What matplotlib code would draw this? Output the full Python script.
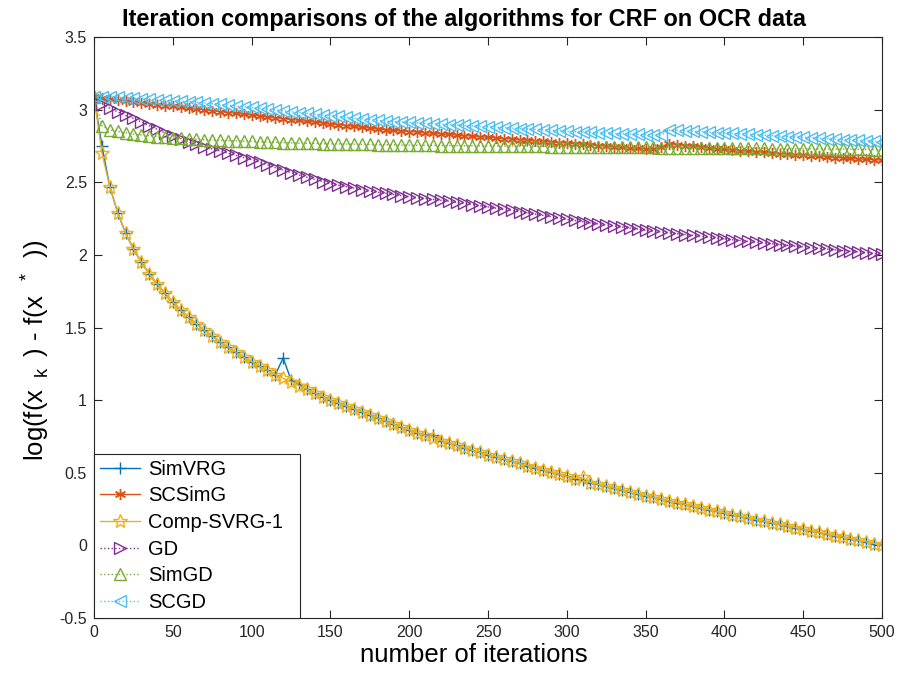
import numpy as np
import matplotlib.pyplot as plt

# iterations at which values are recorded (every 5 iterations)
iters = np.arange(0, 501, 5)

simvrg = [
    3.09, 2.75, 2.47, 2.29, 2.15, 2.04, 1.95, 1.87, 1.80, 1.735,
    1.675, 1.62, 1.57, 1.525, 1.48, 1.44, 1.40, 1.365, 1.33, 1.295,
    1.265, 1.235, 1.205, 1.175, 1.29, 1.14, 1.11, 1.075, 1.05, 1.025,
    1.00, 0.98, 0.96, 0.94, 0.92, 0.90, 0.875, 0.855, 0.835, 0.815,
    0.795, 0.775, 0.757, 0.76, 0.722, 0.705, 0.688, 0.671, 0.655, 0.64,
    0.625, 0.61, 0.595, 0.58, 0.565, 0.55, 0.535, 0.52, 0.505, 0.49,
    0.475, 0.46, 0.447, 0.433, 0.42, 0.407, 0.394, 0.381, 0.368, 0.355,
    0.342, 0.33, 0.318, 0.306, 0.294, 0.282, 0.27, 0.258, 0.246, 0.235,
    0.223, 0.212, 0.20, 0.189, 0.178, 0.167, 0.155, 0.144, 0.133, 0.122,
    0.111, 0.10, 0.089, 0.078, 0.067, 0.057, 0.046, 0.035, 0.025, 0.013,
    0.0,
]

scsimg = [
    3.09, 3.08, 3.07, 3.064, 3.058, 3.052, 3.046, 3.04, 3.034, 3.028,
    3.022, 3.016, 3.01, 3.004, 2.998, 2.992, 2.986, 2.98, 2.974, 2.968,
    2.962, 2.956, 2.95, 2.944, 2.938, 2.932, 2.926, 2.92, 2.914, 2.908,
    2.902, 2.896, 2.89, 2.884, 2.878, 2.872, 2.866, 2.861, 2.857, 2.853,
    2.849, 2.845, 2.841, 2.837, 2.833, 2.829, 2.825, 2.821, 2.817, 2.813,
    2.809, 2.805, 2.801, 2.797, 2.793, 2.789, 2.785, 2.781, 2.777, 2.773,
    2.769, 2.765, 2.761, 2.757, 2.753, 2.749, 2.745, 2.741, 2.737, 2.733,
    2.729, 2.726, 2.745, 2.765, 2.758, 2.752, 2.747, 2.742, 2.737, 2.732,
    2.727, 2.722, 2.718, 2.714, 2.71, 2.706, 2.702, 2.698, 2.694, 2.69,
    2.686, 2.682, 2.678, 2.674, 2.67, 2.667, 2.664, 2.661, 2.658, 2.655,
    2.652,
]

comp_svrg = [
    3.09, 2.70, 2.47, 2.29, 2.15, 2.04, 1.95, 1.87, 1.80, 1.735,
    1.675, 1.62, 1.57, 1.525, 1.48, 1.44, 1.40, 1.365, 1.33, 1.295,
    1.265, 1.235, 1.205, 1.175, 1.15, 1.125, 1.10, 1.075, 1.05, 1.025,
    1.00, 0.98, 0.96, 0.94, 0.92, 0.90, 0.875, 0.855, 0.835, 0.815,
    0.795, 0.775, 0.757, 0.74, 0.722, 0.705, 0.688, 0.671, 0.655, 0.64,
    0.625, 0.61, 0.595, 0.58, 0.565, 0.55, 0.535, 0.52, 0.505, 0.49,
    0.475, 0.46, 0.468, 0.433, 0.42, 0.407, 0.394, 0.381, 0.368, 0.355,
    0.342, 0.33, 0.318, 0.306, 0.294, 0.282, 0.27, 0.258, 0.246, 0.235,
    0.223, 0.212, 0.20, 0.189, 0.178, 0.167, 0.155, 0.144, 0.133, 0.122,
    0.111, 0.10, 0.089, 0.078, 0.067, 0.057, 0.046, 0.035, 0.025, 0.013,
    0.0,
]

gd = [
    3.09, 3.04, 3.01, 2.985, 2.96, 2.94, 2.915, 2.89, 2.865, 2.84,
    2.82, 2.80, 2.78, 2.762, 2.745, 2.73, 2.715, 2.70, 2.685, 2.67,
    2.655, 2.638, 2.62, 2.60, 2.583, 2.566, 2.55, 2.535, 2.52, 2.505,
    2.49, 2.48, 2.47, 2.46, 2.45, 2.44, 2.432, 2.424, 2.416, 2.408,
    2.40, 2.394, 2.388, 2.382, 2.376, 2.37, 2.362, 2.354, 2.346, 2.338,
    2.33, 2.322, 2.314, 2.306, 2.298, 2.29, 2.281, 2.272, 2.263, 2.254,
    2.245, 2.237, 2.229, 2.22, 2.213, 2.206, 2.199, 2.192, 2.185, 2.178,
    2.17, 2.164, 2.158, 2.152, 2.146, 2.14, 2.134, 2.128, 2.122, 2.116,
    2.11, 2.104, 2.099, 2.093, 2.088, 2.082, 2.077, 2.071, 2.066, 2.06,
    2.055, 2.05, 2.045, 2.04, 2.035, 2.03, 2.025, 2.02, 2.015, 2.01,
    2.005,
]

simgd = [
    3.09, 2.89, 2.86, 2.85, 2.84, 2.832, 2.826, 2.82, 2.815, 2.81,
    2.806, 2.802, 2.799, 2.796, 2.793, 2.791, 2.789, 2.787, 2.785, 2.783,
    2.781, 2.779, 2.777, 2.775, 2.773, 2.771, 2.769, 2.768, 2.767, 2.766,
    2.765, 2.764, 2.763, 2.762, 2.761, 2.76, 2.759, 2.758, 2.757, 2.756,
    2.755, 2.7545, 2.754, 2.7535, 2.753, 2.7525, 2.752, 2.7515, 2.751, 2.7505,
    2.75, 2.7495, 2.749, 2.7485, 2.748, 2.7475, 2.747, 2.7465, 2.746, 2.7455,
    2.745, 2.7445, 2.744, 2.7435, 2.743, 2.7425, 2.742, 2.7415, 2.741, 2.7405,
    2.74, 2.7395, 2.739, 2.7385, 2.738, 2.7375, 2.737, 2.7365, 2.736, 2.7355,
    2.735, 2.7345, 2.734, 2.7335, 2.733, 2.7325, 2.732, 2.7315, 2.731, 2.7305,
    2.73, 2.7295, 2.729, 2.7285, 2.728, 2.7275, 2.727, 2.7265, 2.726, 2.7255,
    2.725,
]

scgd = [
    3.09, 3.09, 3.088, 3.085, 3.082, 3.079, 3.075, 3.072, 3.069, 3.065,
    3.062, 3.058, 3.055, 3.051, 3.046, 3.041, 3.036, 3.03, 3.025, 3.02,
    3.015, 3.01, 3.004, 2.999, 2.994, 2.985, 2.98, 2.975, 2.969, 2.964,
    2.958, 2.953, 2.948, 2.942, 2.937, 2.932, 2.926, 2.921, 2.918, 2.915,
    2.912, 2.909, 2.906, 2.903, 2.90, 2.897, 2.894, 2.891, 2.888, 2.885,
    2.882, 2.879, 2.876, 2.873, 2.87, 2.867, 2.864, 2.861, 2.858, 2.855,
    2.852, 2.849, 2.846, 2.843, 2.84, 2.838, 2.836, 2.834, 2.832, 2.83,
    2.828, 2.826, 2.825, 2.858, 2.857, 2.854, 2.851, 2.848, 2.845, 2.842,
    2.839, 2.836, 2.833, 2.83, 2.827, 2.824, 2.821, 2.818, 2.815, 2.812,
    2.809, 2.806, 2.803, 2.80, 2.797, 2.794, 2.791, 2.788, 2.785, 2.782,
    2.779,
]

x_ticks = list(range(0, 501, 50))
y_ticks = [-0.5, 0, 0.5, 1, 1.5, 2, 2.5, 3, 3.5]
y_tick_labels = ["-0.5", "0", "0.5", "1", "1.5", "2", "2.5", "3", "3.5"]

plt.rcParams["font.family"] = ["Liberation Sans", "DejaVu Sans"]
plt.rcParams["mathtext.fontset"] = "custom"
plt.rcParams["mathtext.rm"] = "Liberation Sans"

fig = plt.figure(figsize=(8.99, 6.79), dpi=100)
ax = fig.add_axes([0.1046, 0.0898, 0.8765, 0.8557])

ms = 8
asterisk = (6, 2, 0)
ax.plot(iters, simvrg, "-", marker="+", color="#0072BD", lw=1.0, ms=ms + 1, mew=1.0, label="SimVRG")
ax.plot(iters, scsimg, "-", marker=asterisk, color="#D95319", lw=1.0, ms=ms, mew=1.0, label="SCSimG")
ax.plot(iters, comp_svrg, "-", marker="*", color="#EDB120", lw=1.0, ms=ms + 2, mew=1.0,
        mfc="none", label="Comp-SVRG-1")
ax.plot(iters, gd, ":", marker=">", color="#7E2F8E", lw=1.0, ms=ms, mew=1.0, mfc="none", label="GD")
ax.plot(iters, simgd, ":", marker="^", color="#77AC30", lw=1.0, ms=ms, mew=1.0, mfc="none", label="SimGD")
ax.plot(iters, scgd, ":", marker="<", color="#4DBEEE", lw=1.0, ms=ms, mew=1.0, mfc="none", label="SCGD")

ax.set_xlim(0, 500)
ax.set_ylim(-0.5, 3.5)
ax.set_xticks(x_ticks)
ax.set_yticks(y_ticks)
ax.set_yticklabels(y_tick_labels)
ax.tick_params(direction="in", top=True, right=True, labelsize=11.5, length=5.5, width=0.8,
               colors="#262626", pad=5)
for sp in ax.spines.values():
    sp.set_color("#262626")
    sp.set_linewidth(0.8)

ax.set_title("Iteration comparisons of the algorithms for CRF on OCR data",
             fontsize=16.9, fontweight="bold", pad=8, x=0.47)
ax.set_xlabel("number of iterations", fontsize=18.5, labelpad=2, x=0.482)
ax.set_ylabel(r"log(f(x$_{\rm\ \ k\ \ }$) - f(x$^{\rm\ \ *\ \ }$))", fontsize=18.5,
              labelpad=6, y=0.46)

leg = ax.legend(loc="lower left", fontsize=14.5, frameon=True, fancybox=False,
                bbox_to_anchor=(0.0, 0.0, 0.2615, 0.28), mode="expand",
                borderaxespad=0.0, handlelength=2.0, labelspacing=0.38, borderpad=0.3,
                handletextpad=0.4)
leg.get_frame().set_edgecolor("#262626")
leg.get_frame().set_linewidth(0.8)
leg.get_frame().set_alpha(1.0)

fig.savefig("out.png", dpi=100)
